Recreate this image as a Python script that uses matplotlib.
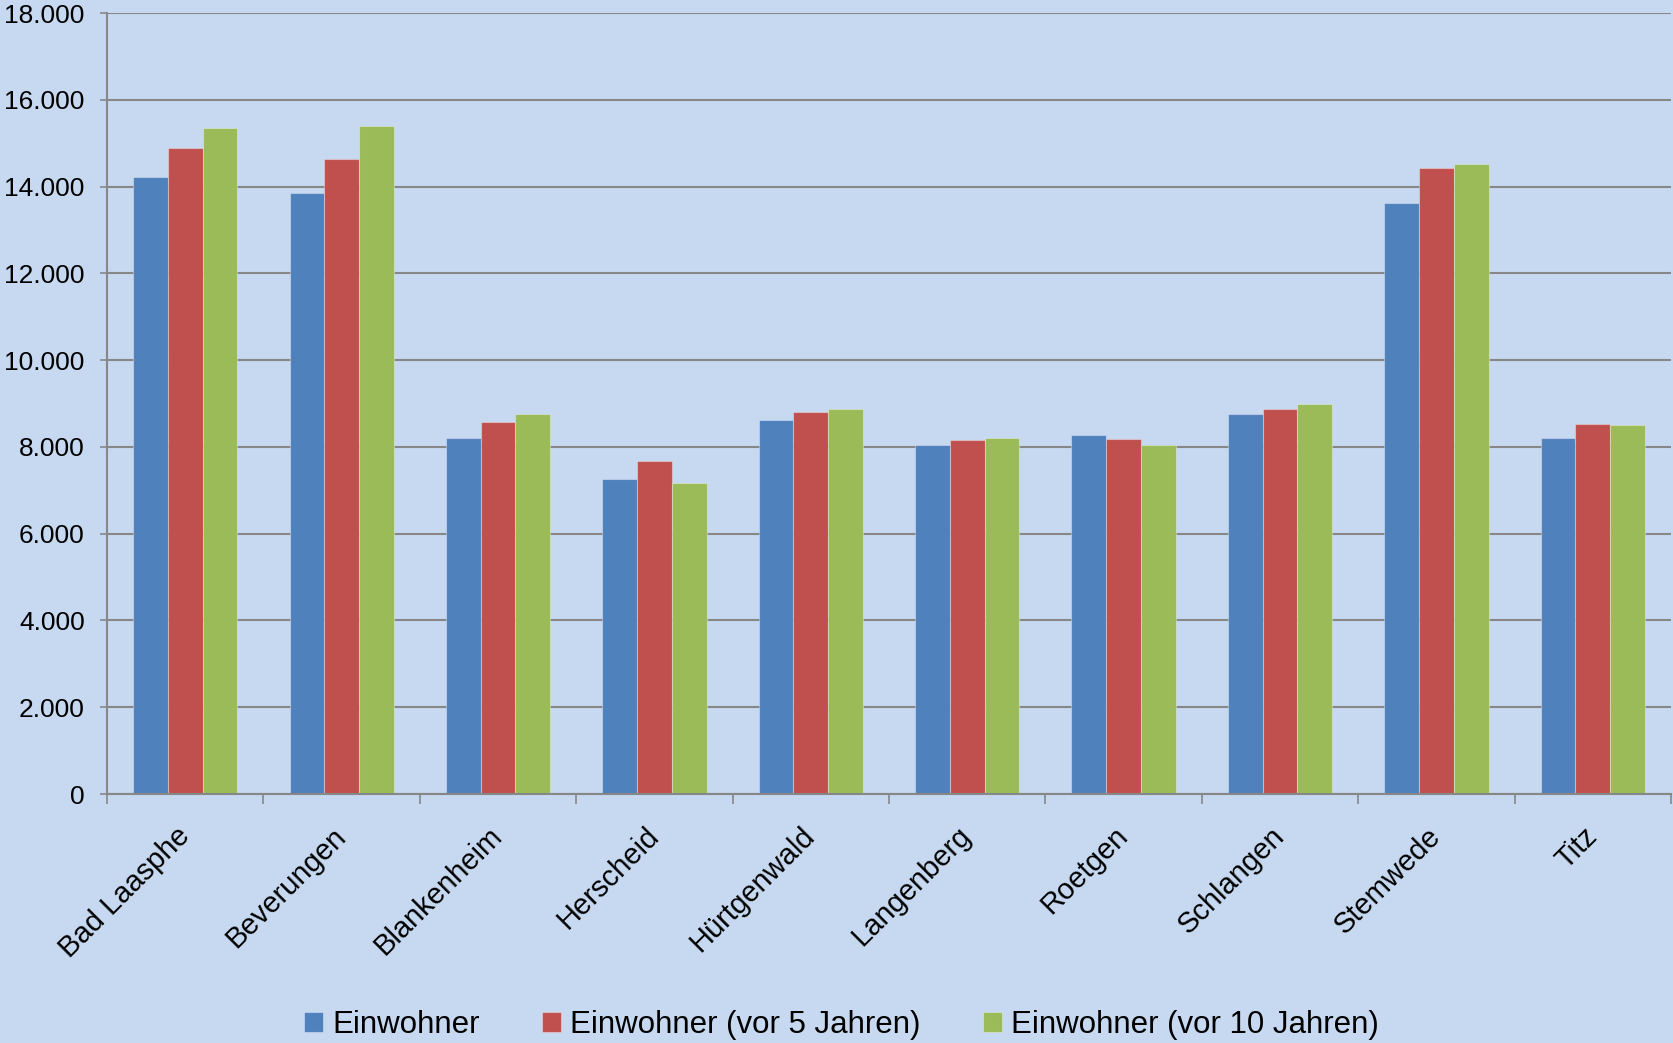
import numpy as np
from matplotlib import pyplot as plt
from matplotlib.ticker import FuncFormatter

# data
gemeinden = ['Bad Laasphe', 'Beverungen', 'Blankenheim', 'Herscheid', 'Hürtgenwald',
             'Langenberg', 'Roetgen', 'Schlangen', 'Stemwede', 'Titz']
einwohner = [14220, 13860, 8200, 7265, 8630, 8050, 8285, 8770, 13630, 8195]
einwohner_5 = [14880, 14625, 8565, 7665, 8795, 8150, 8180, 8885, 14435, 8525]
einwohner_10 = [15340, 15400, 8770, 7165, 8880, 8195, 8050, 8995, 14520, 8495]
serien = ['Einwohner', 'Einwohner (vor 5 Jahren)', 'Einwohner (vor 10 Jahren)']
farben = ['#4F81BD', '#C0504D', '#9BBB59']

bg = '#C6D9F0'
grid_col = '#878787'

plt.rcParams['font.family'] = ['Liberation Sans', 'DejaVu Sans']

fig = plt.figure(figsize=(16.73, 10.43), dpi=100, facecolor=bg)
ax = fig.add_axes([0.064, 0.2387, 0.9348, 0.7488])
ax.set_facecolor(bg)

x = np.arange(len(gemeinden))
w = 2. / 9  # gap width 150%
for k, (vals, name, col) in enumerate(zip([einwohner, einwohner_5, einwohner_10], serien, farben)):
    ax.bar(x + (k - 1) * w, vals, width=w, color=col, label=name,
           edgecolor=(1, 1, 1, 0.35), linewidth=0.8, zorder=3)

ax.set_xlim(-0.5, len(gemeinden) - 0.5)
ax.set_ylim(0, 18000)
ax.set_yticks(np.arange(0, 18001, 2000))
ax.yaxis.set_major_formatter(FuncFormatter(lambda v, p: '{:,.0f}'.format(v).replace(',', '.')))
ax.grid(axis='y', color=grid_col, linewidth=1.5, zorder=0)

# category ticks sit between the groups
ax.set_xticks(np.arange(-0.5, len(gemeinden)), minor=False)
ax.set_xticklabels([])
ax.set_xticks(x, minor=True)
ax.set_xticklabels(gemeinden, minor=True, rotation=45, ha='right', va='center',
                   rotation_mode='anchor', fontsize=21)
ax.tick_params(axis='x', which='minor', length=0, pad=27)
ax.tick_params(axis='x', which='major', length=7, width=1.2, color=grid_col)
ax.tick_params(axis='y', length=5, width=1.2, color=grid_col, labelsize=19, pad=11)

for s in ['top', 'right']:
    ax.spines[s].set_visible(False)
for s in ['left', 'bottom']:
    ax.spines[s].set_color(grid_col)
    ax.spines[s].set_linewidth(1.5)
    ax.spines[s].set_zorder(4)

fig.legend(loc='center', bbox_to_anchor=(0.503, 0.017), ncol=3, frameon=False,
           fontsize=22.5, handlelength=0.6, handleheight=0.6, handletextpad=0.3,
           columnspacing=2.0)

plt.savefig('out.png', dpi=100, facecolor=bg)
